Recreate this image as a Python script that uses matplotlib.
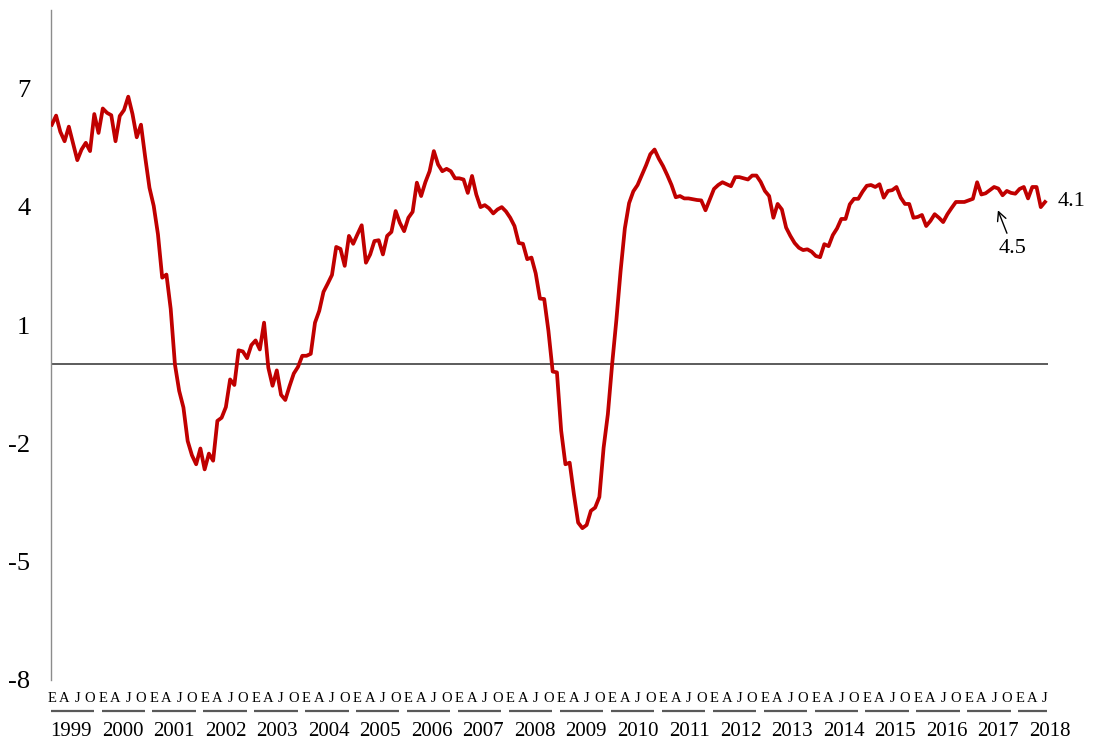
import matplotlib
matplotlib.use("Agg")
import matplotlib.pyplot as plt
import numpy as np

plt.rcParams['font.family'] = ['Liberation Serif', 'DejaVu Serif']

# monthly values, Jan 1999 .. Jul 2018
values = [
    6.08, 6.31, 5.90, 5.66, 6.03, 5.60, 5.18, 5.45, 5.62, 5.41, 6.35, 5.87,   # 1999
    6.49, 6.38, 6.32, 5.66, 6.30, 6.45, 6.79, 6.35, 5.76, 6.08, 5.25, 4.48,   # 2000
    4.02, 3.30, 2.20, 2.28, 1.41, 0.00, -0.67, -1.09, -1.94, -2.30, -2.53, -2.13,  # 2001
    -2.66, -2.26, -2.44, -1.43, -1.35, -1.08, -0.38, -0.52, 0.36, 0.33, 0.16, 0.49,  # 2002
    0.61, 0.38, 1.06, -0.08, -0.54, -0.15, -0.77, -0.90, -0.55, -0.23, -0.06, 0.22,  # 2003
    0.22, 0.27, 1.06, 1.36, 1.84, 2.05, 2.27, 2.98, 2.93, 2.50, 3.26, 3.06,   # 2004
    3.30, 3.53, 2.58, 2.79, 3.13, 3.15, 2.79, 3.26, 3.36, 3.89, 3.59, 3.38,   # 2005
    3.72, 3.87, 4.61, 4.27, 4.62, 4.90, 5.41, 5.07, 4.90, 4.96, 4.90, 4.72,   # 2006
    4.72, 4.69, 4.35, 4.78, 4.31, 3.99, 4.04, 3.96, 3.83, 3.93, 3.99, 3.88,   # 2007
    3.72, 3.51, 3.08, 3.06, 2.67, 2.71, 2.31, 1.67, 1.66, 0.85, -0.18, -0.20,  # 2008
    -1.68, -2.53, -2.49, -3.29, -4.01, -4.15, -4.07, -3.71, -3.63, -3.36, -2.11, -1.26,  # 2009
    0.00, 1.12, 2.37, 3.45, 4.09, 4.39, 4.55, 4.80, 5.05, 5.33, 5.45, 5.22,   # 2010
    5.03, 4.80, 4.55, 4.24, 4.27, 4.21, 4.21, 4.19, 4.17, 4.16, 3.91, 4.18,   # 2011
    4.45, 4.55, 4.62, 4.57, 4.52, 4.75, 4.75, 4.72, 4.69, 4.79, 4.79, 4.63,   # 2012
    4.40, 4.27, 3.72, 4.07, 3.93, 3.47, 3.26, 3.08, 2.96, 2.90, 2.92, 2.86,   # 2013
    2.75, 2.72, 3.05, 3.00, 3.28, 3.45, 3.69, 3.69, 4.06, 4.20, 4.20, 4.38,   # 2014
    4.53, 4.55, 4.50, 4.57, 4.23, 4.40, 4.42, 4.50, 4.23, 4.07, 4.07, 3.72,   # 2015
    3.74, 3.79, 3.51, 3.64, 3.81, 3.72, 3.61, 3.81, 3.97, 4.12, 4.12, 4.12,   # 2016
    4.16, 4.20, 4.62, 4.31, 4.34, 4.42, 4.50, 4.46, 4.29, 4.40, 4.35, 4.33,   # 2017
    4.45, 4.50, 4.21, 4.50, 4.50, 3.99, 4.12,                                 # 2018
]
years = list(range(1999, 2019))
month_letters = ['E', 'A', 'J', 'O']
yticks = [7, 4, 1, -2, -5, -8]
last_label = '4.1'
note_label = '4.5'

x = np.arange(len(values))

fig = plt.figure(figsize=(10.93, 7.41), dpi=100)
ax = fig.add_axes([51 / 1093, 61 / 741, 997 / 1093, 670.5 / 741])

ax.axhline(0, color='#404040', lw=1.2, zorder=1)
ax.plot(x, values, color='#C00000', lw=2.7, zorder=3)

ax.set_xlim(-0.2, 234.7)
ax.set_ylim(-8, 9)

for s in ['top', 'right', 'bottom']:
    ax.spines[s].set_visible(False)
ax.spines['left'].set_color('#8c8c8c')
ax.spines['left'].set_linewidth(1)

ax.set_yticks(yticks)
ax.set_yticklabels([str(v) for v in yticks], fontsize=19)
ax.tick_params(axis='y', length=0, pad=15)

# E A J O letters every quarter
qpos = x[::3]
ax.set_xticks(qpos)
ax.set_xticklabels([month_letters[i % 4] for i in range(len(qpos))], fontsize=10.5)
ax.tick_params(axis='x', length=0, pad=9)

# year labels with underline
trans = ax.get_xaxis_transform()
for i, yr in enumerate(years):
    c = 12 * i + 4.8
    ax.plot([c - 5.1, min(c + 5.1, 234.5)], [-0.0462, -0.0462], transform=trans,
            color='#595959', lw=1.6, clip_on=False, solid_capstyle='butt')
    ax.text(12 * i + 4.6 + 0.13 * i, -0.077, str(yr), transform=trans,
            ha='center', va='center', fontsize=15)

# end labels
ax.text(237, values[-1], last_label, ha='left', va='center', fontsize=16, clip_on=False)
ax.annotate(note_label, xy=(222.9, 3.91), xytext=(226.4, 2.95),
            ha='center', va='center', fontsize=16,
            arrowprops=dict(arrowstyle='->', color='black', lw=1, shrinkA=2, shrinkB=0))

fig.savefig('out.png', dpi=100)
